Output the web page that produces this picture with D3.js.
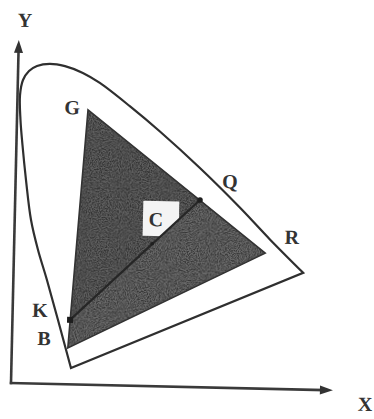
<!DOCTYPE html>
<html>
<head>
<meta charset="utf-8">
<script src="https://cdn.jsdelivr.net/npm/d3@7"></script>
<style>
  html, body { margin: 0; padding: 0; background: #fff; }
  svg { display: block; }
</style>
</head>
<body>
<svg id="chart" width="374" height="419"></svg>
<script>
// Spectral locus (chromaticity x, y), traced from the blue end round to the red end
const locusX = [0.149, 0.084, 0.060, 0.0408, 0.026, 0.0152, 0.0088, 0.0062, 0.0128, 0.0273, 0.047, 0.079, 0.117, 0.162, 0.205, 0.282, 0.358, 0.460, 0.5626, 0.639, 0.724];
const locusY = [0.041, 0.2595, 0.334, 0.4085, 0.508, 0.5955, 0.658, 0.720, 0.758, 0.781, 0.794, 0.800, 0.795, 0.779, 0.755, 0.698, 0.637, 0.548, 0.451, 0.3736, 0.292];

// Display primaries forming the gamut triangle
const primaryNames = ["G", "R", "B"];
const primaryX = [0.177, 0.628, 0.140];
const primaryY = [0.687, 0.339, 0.091];

// Line through the white point C, from K (on edge GB) to Q (on edge GR)
const pointNames = ["K", "C", "Q"];
const pointX = [0.144, 0.345, 0.462];
const pointY = [0.161, 0.356, 0.468];

// Axis extents
const axisXMax = 0.805;
const axisYMax = 0.858;

// Letter labels and their anchors
const labelText = ["Y", "G", "Q", "R", "K", "B", "X", "C"];
const labelX = [0.014, 0.137, 0.536, 0.694, 0.068, 0.080, 0.886, 0.353];
const labelY = [0.908, 0.693, 0.517, 0.381, 0.184, 0.114, -0.032, 0.418];

const svg = d3.select("#chart");
const x = d3.scaleLinear().domain([0, 1]).range([0, 400]);
const y = d3.scaleLinear().domain([0, 1]).range([0, -400]);

const ink = "#2f2f2f";

const defs = svg.append("defs");
// grain texture for the shaded gamut
const grain = defs.append("filter").attr("id", "grain")
  .attr("x", 0).attr("y", 0).attr("width", 1).attr("height", 1);
grain.append("feTurbulence").attr("type", "fractalNoise")
  .attr("baseFrequency", 0.9).attr("numOctaves", 2).attr("seed", 3).attr("result", "n");
grain.append("feColorMatrix").attr("in", "n").attr("type", "matrix")
  .attr("values", "0 0 0 0 0  0 0 0 0 0  0 0 0 0 0  0 0 0 -3 1.9");

const g = svg.append("g").attr("transform", "translate(11,383) rotate(1.3)");

const pt = (a, b) => [x(a), y(b)];
const locus = locusX.map((v, i) => pt(v, locusY[i]));
const prim = primaryX.map((v, i) => pt(v, primaryY[i]));
const pts = pointX.map((v, i) => pt(v, pointY[i]));
const [G, R, B] = prim;
const [K, C, Q] = pts;

// gamut triangle split by line KQ
const poly = p => "M" + p.map(d => d.join(",")).join("L") + "Z";
g.append("path").attr("d", poly([G, Q, K])).attr("fill", "#5e5e5e");
g.append("path").attr("d", poly([Q, R, B, K])).attr("fill", "#686868");

defs.append("clipPath").attr("id", "tri").append("path").attr("d", poly(prim));
defs.append("clipPath").attr("id", "upper").append("path").attr("d", poly([G, Q, K]));

const ext = d3.extent(prim, d => d[0]), eyt = d3.extent(prim, d => d[1]);
g.append("rect")
  .attr("x", ext[0]).attr("y", eyt[0])
  .attr("width", ext[1] - ext[0]).attr("height", eyt[1] - eyt[0])
  .attr("clip-path", "url(#tri)")
  .attr("fill", "#fff").attr("filter", "url(#grain)").attr("opacity", 0.45);

// white backing behind the C label, kept on the G side of the line
const li = labelText.indexOf("C");
const cc = pt(labelX[li], labelY[li]);
g.append("rect")
  .attr("x", cc[0] - 13).attr("y", cc[1] - 18)
  .attr("width", 36).attr("height", 35)
  .attr("clip-path", "url(#upper)")
  .attr("fill", "#f4f4f4");

g.append("path").attr("d", poly(prim))
  .attr("fill", "none").attr("stroke", "#333").attr("stroke-width", 1.6)
  .attr("stroke-linejoin", "miter");

// spectral locus with the purple line closing it
const lineGen = d3.line().curve(d3.curveCatmullRom.alpha(0.5));
g.append("path").attr("d", lineGen(locus) + "Z")
  .attr("fill", "none").attr("stroke", ink).attr("stroke-width", 2.2)
  .attr("stroke-linejoin", "miter");

// K–Q line
g.append("line")
  .attr("x1", K[0]).attr("y1", K[1]).attr("x2", Q[0]).attr("y2", Q[1])
  .attr("stroke", "#262626").attr("stroke-width", 2.2);
g.append("rect").attr("x", K[0] - 3).attr("y", K[1] - 3)
  .attr("width", 6).attr("height", 6).attr("fill", "#1e1e1e");
g.append("circle").attr("cx", Q[0]).attr("cy", Q[1]).attr("r", 2.8).attr("fill", "#1e1e1e");
g.append("circle").attr("cx", C[0]).attr("cy", C[1]).attr("r", 1.8).attr("fill", "#1e1e1e");

// axes with arrowheads
g.append("line").attr("x1", x(-0.003)).attr("y1", y(0)).attr("x2", x(axisXMax) - 8).attr("y2", y(0))
  .attr("stroke", "#3a3a3a").attr("stroke-width", 2.6);
g.append("line").attr("x1", x(0)).attr("y1", y(-0.003)).attr("x2", x(0)).attr("y2", y(axisYMax) + 8)
  .attr("stroke", "#3a3a3a").attr("stroke-width", 2.6);
const ax = x(axisXMax), ay = y(axisYMax);
g.append("path").attr("d", `M${ax},0L${ax - 13},-4.5L${ax - 13},4.5Z`).attr("fill", "#333");
g.append("path").attr("d", `M0,${ay}L-4.5,${ay + 13}L4.5,${ay + 13}Z`).attr("fill", "#333");

// letter labels
g.selectAll("text.lbl").data(labelText).join("text")
  .attr("class", "lbl")
  .attr("x", (d, i) => x(labelX[i]))
  .attr("y", (d, i) => y(labelY[i]))
  .attr("text-anchor", "middle")
  .attr("dominant-baseline", "central")
  .attr("font-family", "'Liberation Serif', 'DejaVu Serif', serif")
  .attr("font-weight", "bold")
  .attr("font-size", 20)
  .attr("fill", "#333")
  .text(d => d);
</script>
</body>
</html>
